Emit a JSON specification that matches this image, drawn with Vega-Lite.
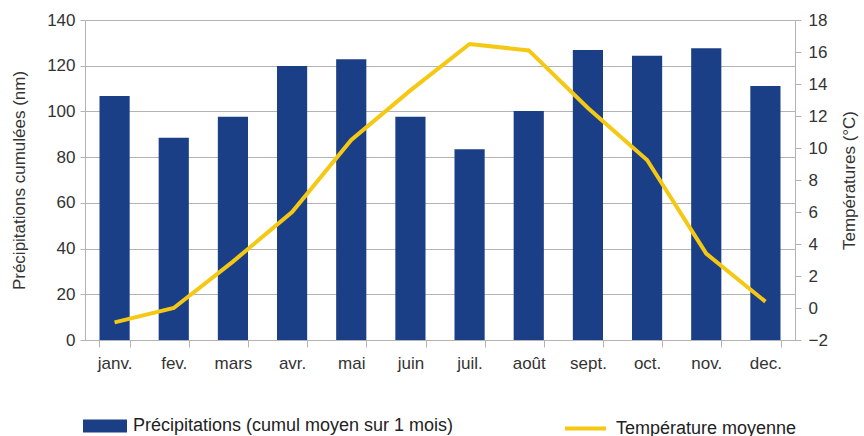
{
  "$schema": "https://vega.github.io/schema/vega-lite/v6.json",
  "width": 710,
  "height": 320,
  "autosize": {"type": "none"},
  "padding": {"left": 85, "top": 20, "right": 69, "bottom": 96},
  "background": "white",
  "config": {
    "font": "Liberation Sans",
    "view": {"stroke": null},
    "axis": {"labelFont": "Liberation Sans", "titleFont": "Liberation Sans", "labelFontSize": 17, "titleFontSize": 17, "titleFontWeight": "normal", "labelColor": "#333333", "titleColor": "#333333", "domainColor": "#b3b3b3", "tickColor": "#b3b3b3", "gridColor": "#b3b3b3"},
    "legend": {"labelFont": "Liberation Sans", "labelFontSize": 18, "labelColor": "#222222", "padding": 0, "labelLimit": 0}
  },
  "data": {
    "values": [
      {"mois": "janv.", "precip": 106.7, "temp": -0.9},
      {"mois": "fev.", "precip": 88.5, "temp": 0.0},
      {"mois": "mars", "precip": 97.7, "temp": 2.9},
      {"mois": "avr.", "precip": 119.9, "temp": 6.0},
      {"mois": "mai", "precip": 122.8, "temp": 10.5},
      {"mois": "juin", "precip": 97.7, "temp": 13.6},
      {"mois": "juil.", "precip": 83.5, "temp": 16.5},
      {"mois": "août", "precip": 100.2, "temp": 16.1},
      {"mois": "sept.", "precip": 126.9, "temp": 12.5},
      {"mois": "oct.", "precip": 124.4, "temp": 9.25},
      {"mois": "nov.", "precip": 127.6, "temp": 3.4},
      {"mois": "dec.", "precip": 111.1, "temp": 0.4}
    ]
  },
  "encoding": {
    "x": {
      "field": "mois",
      "type": "nominal",
      "sort": null,
      "scale": {"paddingInner": 0.49, "paddingOuter": 0.245},
      "axis": {"title": null, "labelAngle": 0, "tickBand": "extent", "tickSize": 7, "labelPadding": 8, "grid": false, "domainColor": "#b3b3b3"}
    }
  },
  "layer": [
    {
      "mark": {"type": "bar"},
      "encoding": {
        "y": {
          "field": "precip",
          "type": "quantitative",
          "scale": {"domain": [0, 140], "nice": false},
          "axis": {"title": "Précipitations cumulées (nm)", "values": [0, 20, 40, 60, 80, 100, 120, 140], "grid": true, "tickSize": 5, "labelPadding": 5, "titlePadding": 18}
        },
        "fill": {
          "datum": "Précipitations  (cumul moyen  sur 1 mois)",
          "type": "nominal",
          "scale": {"range": ["#1b3f86"]},
          "legend": {"title": null, "orient": "none", "legendX": -2, "legendY": 384, "symbolType": "M-1,-0.3H1V0.3H-1Z", "symbolSize": 1936, "symbolStrokeWidth": 0, "labelOffset": 6, "labelLimit": 0}
        }
      }
    },
    {
      "mark": {"type": "line", "strokeWidth": 4, "interpolate": "linear"},
      "encoding": {
        "y": {
          "field": "temp",
          "type": "quantitative",
          "scale": {"domain": [-2, 18], "nice": false},
          "axis": {"title": "Températures (°C)", "orient": "right", "values": [-2, 0, 2, 4, 6, 8, 10, 12, 14, 16, 18], "grid": false, "tickSize": 6, "labelPadding": 7, "titlePadding": 14, "titleAngle": 270, "titleBaseline": "top"}
        },
        "stroke": {
          "datum": "Température moyenne",
          "type": "nominal",
          "scale": {"range": ["#f5c814"]},
          "legend": {"title": null, "orient": "none", "legendX": 478, "legendY": 386, "symbolType": "stroke", "symbolSize": 1681, "symbolStrokeWidth": 4, "labelOffset": 8, "labelLimit": 0}
        }
      }
    }
  ],
  "resolve": {"scale": {"y": "independent"}}
}
